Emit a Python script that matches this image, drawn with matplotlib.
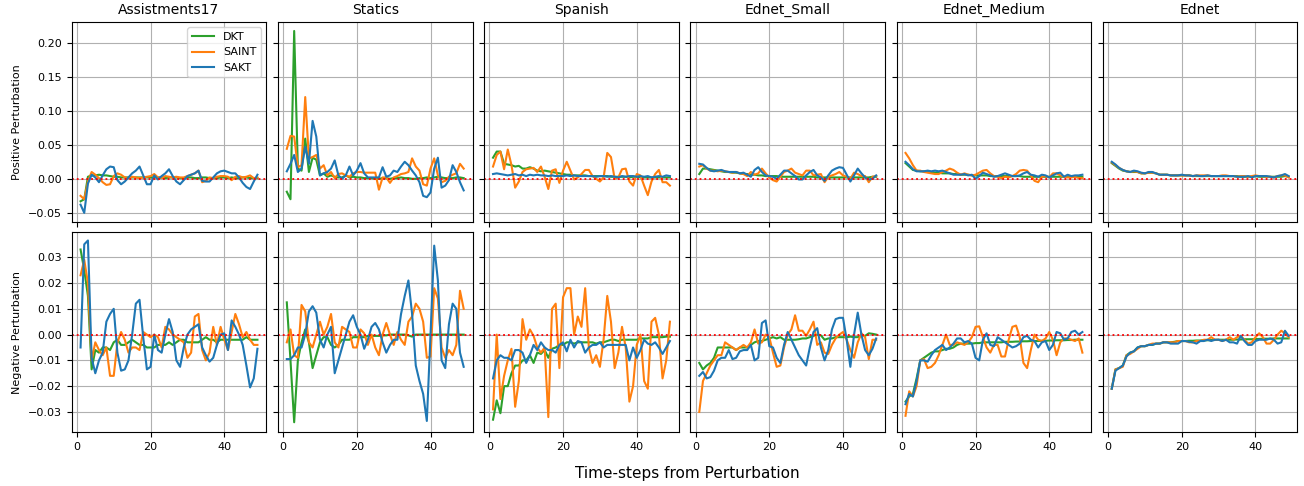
import matplotlib
matplotlib.use("Agg")
import matplotlib.pyplot as plt
import numpy as np

datasets = ["Assistments17", "Statics", "Spanish", "Ednet_Small", "Ednet_Medium", "Ednet"]
models = ["DKT", "SAINT", "SAKT"]
colors = {"DKT": "tab:green", "SAINT": "tab:orange", "SAKT": "tab:blue"}
steps = list(range(1, 50))

# ---------------- Positive perturbation ----------------
pos_assist_dkt = [-0.033, -0.030, 0.003, 0.005, 0.005, 0.006, 0.005, 0.005, 0.004, 0.003,
                  0.003, 0.002, 0.002, 0.002, 0.002, 0.002, 0.002, 0.002, 0.002, 0.002,
                  0.002, 0.002, 0.002, 0.001, 0.002, 0.002, 0.002, 0.001, 0.001, 0.002,
                  0.002, 0.001, 0.001, 0.002, 0.002, 0.001, 0.001, 0.001, 0.002, 0.002,
                  0.001, 0.002, 0.001, 0.001, 0.002, 0.002, 0.001, 0.001, 0.001]
pos_assist_saint = [-0.025, -0.030, -0.004, 0.010, 0.006, 0.001, -0.005, -0.009, -0.008, 0.004,
                    0.008, 0.006, 0.002, 0.001, 0.003, 0.002, 0.001, 0.002, 0.003, 0.004,
                    0.007, 0.002, 0.001, 0.004, 0.003, 0.002, 0.003, 0.002, 0.002, 0.004,
                    0.006, 0.008, 0.012, -0.005, -0.003, 0.002, 0.001, 0.003, 0.004, 0.004,
                    0.003, -0.002, 0.003, 0.004, 0.002, 0.003, 0.005, 0.001, 0.002]
pos_assist_sakt = [-0.038, -0.050, -0.007, 0.006, 0.002, -0.005, 0.005, 0.014, 0.018, 0.017,
                   -0.002, -0.008, -0.004, 0.002, 0.008, 0.012, 0.018, 0.005, -0.008, -0.008,
                   0.005, -0.001, 0.004, 0.008, 0.014, 0.004, -0.004, -0.008, -0.002, 0.004,
                   0.006, 0.008, 0.012, -0.003, -0.004, -0.004, 0.002, 0.008, 0.011, 0.012,
                   0.010, 0.008, 0.008, 0.002, -0.006, -0.012, -0.015, -0.004, 0.006]

pos_statics_dkt = [-0.019, -0.030, 0.217, 0.015, 0.012, 0.059, 0.010, 0.031, 0.028, 0.005,
                   0.008, 0.003, 0.005, 0.003, 0.002, 0.002, 0.005, 0.002, 0.003, 0.002,
                   0.002, 0.001, 0.001, 0.001, 0.000, 0.000, 0.001, 0.001, 0.000, 0.001,
                   0.001, 0.002, 0.001, 0.001, 0.000, 0.000, 0.001, 0.001, 0.002, 0.001,
                   0.002, 0.003, 0.002, 0.001, 0.001, 0.001, 0.002, 0.002, 0.001]
pos_statics_saint = [0.044, 0.063, 0.062, 0.017, 0.020, 0.120, 0.030, 0.032, 0.035, 0.015,
                     0.020, 0.005, 0.010, 0.001, 0.007, 0.008, 0.005, 0.003, 0.008, 0.010,
                     0.010, 0.009, 0.009, 0.009, 0.009, -0.016, 0.002, 0.002, -0.006, 0.002,
                     0.004, 0.007, 0.008, 0.010, 0.030, 0.018, 0.012, -0.008, -0.010, 0.015,
                     0.030, 0.005, -0.005, -0.003, 0.003, 0.006, 0.008, 0.022, 0.015]
pos_statics_sakt = [0.011, 0.022, 0.035, 0.010, 0.015, 0.047, 0.022, 0.085, 0.062, 0.005,
                    0.008, 0.010, 0.015, 0.027, 0.005, 0.000, 0.005, 0.018, 0.005, 0.012,
                    0.023, 0.008, 0.002, 0.002, 0.002, 0.002, 0.017, 0.003, 0.005, 0.012,
                    0.010, 0.018, 0.025, 0.020, 0.012, 0.005, -0.005, -0.025, -0.027, -0.020,
                    0.015, 0.031, -0.013, -0.010, -0.002, 0.020, 0.010, -0.005, -0.017]

pos_spanish_dkt = [0.031, 0.040, 0.040, 0.022, 0.021, 0.020, 0.018, 0.019, 0.015, 0.015,
                   0.017, 0.015, 0.012, 0.011, 0.012, 0.011, 0.010, 0.009, 0.008, 0.007,
                   0.006, 0.006, 0.005, 0.005, 0.005, 0.005, 0.004, 0.004, 0.004, 0.004,
                   0.004, 0.004, 0.003, 0.003, 0.003, 0.003, 0.003, 0.002, 0.003, 0.003,
                   0.002, 0.002, 0.002, 0.002, 0.002, 0.002, 0.002, 0.002, 0.002]
pos_spanish_saint = [0.018, 0.035, 0.040, 0.014, 0.043, 0.020, -0.013, -0.004, 0.010, 0.014,
                     0.015, 0.016, 0.010, 0.018, 0.003, -0.015, 0.012, 0.014, -0.006, 0.012,
                     0.025, 0.012, -0.001, 0.002, 0.007, 0.013, 0.013, 0.004, 0.000, -0.004,
                     0.002, 0.038, 0.032, 0.000, 0.002, 0.014, 0.015, -0.004, -0.010, 0.007,
                     0.005, -0.010, -0.024, -0.004, 0.007, 0.013, -0.005, -0.005, -0.010]
pos_spanish_sakt = [0.007, 0.008, 0.007, 0.006, 0.005, 0.006, 0.007, 0.005, 0.006, 0.004,
                    0.006, 0.005, 0.006, 0.005, 0.005, 0.004, 0.005, 0.004, 0.004, 0.004,
                    0.005, 0.004, 0.005, 0.004, 0.004, 0.004, 0.004, 0.004, 0.003, 0.004,
                    0.004, 0.003, 0.004, 0.003, 0.002, 0.004, 0.003, 0.004, 0.004, 0.003,
                    0.004, 0.003, 0.004, 0.002, 0.003, 0.004, 0.003, 0.005, 0.004]

pos_esmall_dkt = [0.007, 0.015, 0.015, 0.014, 0.013, 0.012, 0.011, 0.010, 0.010, 0.009,
                  0.009, 0.008, 0.007, 0.007, 0.006, 0.006, 0.005, 0.005, 0.004, 0.004,
                  0.004, 0.004, 0.003, 0.003, 0.003, 0.003, 0.003, 0.003, 0.003, 0.003,
                  0.003, 0.003, 0.002, 0.002, 0.002, 0.002, 0.002, 0.002, 0.002, 0.002,
                  0.002, 0.002, 0.002, 0.002, 0.002, 0.002, 0.002, 0.003, 0.003]
pos_esmall_saint = [0.018, 0.020, 0.015, 0.012, 0.012, 0.011, 0.012, 0.011, 0.010, 0.009,
                    0.010, 0.008, 0.007, 0.004, 0.010, 0.006, 0.008, 0.015, 0.008, 0.002,
                    -0.002, -0.004, 0.003, 0.010, 0.012, 0.015, 0.009, 0.007, 0.005, 0.012,
                    0.012, 0.005, 0.006, 0.007, -0.005, 0.003, 0.005, 0.007, 0.010, 0.005,
                    0.003, 0.000, 0.009, 0.007, 0.004, 0.004, -0.005, 0.003, 0.004]
pos_esmall_sakt = [0.022, 0.021, 0.016, 0.012, 0.011, 0.012, 0.013, 0.011, 0.010, 0.010,
                   0.010, 0.008, 0.009, 0.006, 0.003, 0.013, 0.017, 0.010, 0.005, 0.004,
                   0.003, 0.000, 0.006, 0.012, 0.012, 0.008, 0.004, -0.001, -0.001, 0.005,
                   0.010, 0.013, 0.005, 0.002, -0.003, 0.005, 0.012, 0.015, 0.017, 0.016,
                   0.006, -0.004, 0.005, 0.015, 0.008, 0.002, -0.001, 0.000, 0.005]

pos_emed_dkt = [0.023, 0.018, 0.013, 0.012, 0.011, 0.011, 0.010, 0.010, 0.009, 0.009,
                0.008, 0.008, 0.008, 0.007, 0.007, 0.006, 0.006, 0.006, 0.005, 0.005,
                0.005, 0.005, 0.005, 0.004, 0.004, 0.004, 0.004, 0.004, 0.004, 0.004,
                0.004, 0.004, 0.003, 0.003, 0.003, 0.003, 0.003, 0.003, 0.003, 0.003,
                0.003, 0.003, 0.003, 0.003, 0.003, 0.003, 0.003, 0.003, 0.003]
pos_emed_saint = [0.038, 0.030, 0.020, 0.012, 0.012, 0.010, 0.009, 0.008, 0.007, 0.007,
                  0.010, 0.012, 0.015, 0.013, 0.009, 0.006, 0.008, 0.006, 0.005, 0.006,
                  0.009, 0.012, 0.013, 0.008, 0.004, 0.003, 0.001, 0.003, 0.002, 0.004,
                  0.007, 0.012, 0.013, 0.012, 0.005, -0.003, -0.005, 0.003, 0.004, 0.002,
                  0.008, 0.008, 0.005, 0.003, 0.002, 0.002, 0.003, 0.001, 0.001]
pos_emed_sakt = [0.025, 0.020, 0.014, 0.011, 0.011, 0.011, 0.012, 0.011, 0.012, 0.011,
                 0.012, 0.010, 0.008, 0.006, 0.006, 0.006, 0.007, 0.005, 0.006, 0.000,
                 0.004, 0.009, 0.007, 0.005, 0.003, 0.004, 0.006, 0.008, 0.006, 0.004,
                 0.004, 0.005, 0.008, 0.010, 0.006, 0.005, 0.003, 0.006, 0.005, 0.002,
                 0.005, 0.008, 0.009, 0.003, 0.006, 0.004, 0.005, 0.005, 0.006]

pos_ednet_dkt = [0.023, 0.019, 0.015, 0.012, 0.011, 0.010, 0.010, 0.010, 0.008, 0.008,
                 0.009, 0.009, 0.008, 0.006, 0.006, 0.006, 0.005, 0.005, 0.005, 0.005,
                 0.005, 0.005, 0.004, 0.004, 0.004, 0.004, 0.004, 0.004, 0.004, 0.004,
                 0.004, 0.004, 0.004, 0.004, 0.004, 0.003, 0.003, 0.003, 0.003, 0.004,
                 0.003, 0.003, 0.003, 0.003, 0.003, 0.003, 0.003, 0.004, 0.003]
pos_ednet_saint = [0.024, 0.020, 0.016, 0.013, 0.011, 0.010, 0.011, 0.010, 0.008, 0.008,
                   0.009, 0.009, 0.008, 0.006, 0.006, 0.006, 0.005, 0.005, 0.005, 0.005,
                   0.005, 0.005, 0.004, 0.005, 0.005, 0.005, 0.005, 0.004, 0.004, 0.004,
                   0.005, 0.005, 0.004, 0.004, 0.003, 0.004, 0.004, 0.003, 0.004, 0.005,
                   0.004, 0.004, 0.003, 0.003, 0.002, 0.004, 0.005, 0.005, 0.002]
pos_ednet_sakt = [0.025, 0.021, 0.016, 0.013, 0.011, 0.010, 0.012, 0.011, 0.009, 0.008,
                  0.010, 0.010, 0.008, 0.006, 0.006, 0.006, 0.005, 0.005, 0.005, 0.006,
                  0.005, 0.005, 0.004, 0.005, 0.004, 0.004, 0.005, 0.004, 0.004, 0.004,
                  0.004, 0.004, 0.004, 0.004, 0.003, 0.003, 0.003, 0.004, 0.002, 0.004,
                  0.004, 0.004, 0.004, 0.003, 0.002, 0.004, 0.005, 0.007, 0.004]

# ---------------- Negative perturbation ----------------
neg_assist_dkt = [0.033, 0.025, 0.015, -0.0135, -0.006, -0.007, -0.005, -0.005, -0.006, -0.003,
                  -0.002, -0.004, -0.004, -0.003, -0.002, -0.003, -0.004, -0.004, -0.005, -0.005,
                  -0.005, -0.004, -0.004, -0.004, -0.003, -0.004, -0.003, -0.002, -0.002, -0.003,
                  -0.003, -0.003, -0.003, -0.002, -0.001, -0.002, -0.002, -0.003, -0.002, -0.002,
                  -0.002, -0.002, -0.002, -0.002, -0.002, -0.001, -0.002, -0.002, -0.002]
neg_assist_saint = [0.023, 0.029, 0.020, -0.010, -0.003, -0.006, -0.008, -0.005, -0.016, -0.016,
                    -0.003, 0.001, -0.002, -0.007, -0.005, -0.005, -0.006, 0.001, 0.000, -0.001,
                    0.000, -0.001, -0.005, 0.003, 0.002, 0.000, -0.001, -0.002, -0.003, -0.009,
                    -0.007, 0.007, 0.008, -0.006, -0.010, -0.007, 0.003, -0.004, 0.003, -0.002,
                    -0.006, 0.001, 0.008, 0.004, -0.001, 0.001, -0.002, -0.004, -0.004]
neg_assist_sakt = [-0.005, 0.035, 0.0365, -0.009, -0.015, -0.010, -0.007, 0.005, 0.008, 0.010,
                   -0.007, -0.014, -0.0135, -0.010, 0.000, 0.012, 0.0135, -0.001, -0.0135, -0.0125,
                   0.000, -0.006, -0.007, 0.000, 0.006, 0.001, -0.010, -0.0125, -0.005, 0.000,
                   0.002, 0.003, 0.004, -0.005, -0.008, -0.0105, -0.009, -0.004, 0.000, 0.0005,
                   -0.006, 0.0055, 0.003, 0.000, -0.004, -0.012, -0.0205, -0.017, -0.0055]

neg_statics_dkt = [0.0125, -0.010, -0.034, -0.010, -0.003, 0.002, -0.003, -0.013, -0.008, -0.003,
                   -0.001, -0.001, -0.004, -0.005, -0.004, -0.002, -0.002, -0.002, -0.001, -0.001,
                   -0.001, -0.001, -0.0005, -0.0005, -0.0005, -0.0005, -0.0003, -0.0003, 0.000, 0.000,
                   0.000, 0.000, 0.000, -0.0003, -0.0008, 0.000, 0.000, 0.000, 0.000, 0.000,
                   0.000, 0.000, 0.000, 0.000, 0.000, 0.000, 0.000, 0.000, 0.000]
neg_statics_saint = [-0.003, 0.002, -0.008, -0.009, 0.0115, 0.009, -0.003, -0.005, 0.000, 0.005,
                     0.000, 0.003, 0.008, -0.003, -0.005, 0.003, 0.002, 0.001, -0.005, -0.005,
                     0.002, 0.0005, -0.004, 0.000, -0.005, -0.008, 0.000, 0.0045, 0.000, -0.004,
                     0.001, -0.002, -0.004, 0.005, 0.007, 0.012, 0.010, 0.005, -0.009, -0.0085,
                     0.018, 0.014, -0.005, -0.009, -0.006, -0.008, -0.004, 0.017, 0.010]
neg_statics_sakt = [-0.0095, -0.0095, -0.008, -0.005, -0.005, 0.000, 0.009, 0.011, 0.0085, -0.002,
                    -0.005, 0.000, 0.003, -0.015, -0.010, -0.005, 0.000, 0.005, 0.0075, 0.003,
                    0.000, -0.0055, -0.002, 0.003, 0.0045, 0.002, -0.003, -0.007, -0.004, -0.002,
                    -0.002, 0.008, 0.015, 0.021, 0.008, -0.012, -0.018, -0.023, -0.0335, 0.000,
                    0.0345, 0.021, -0.010, -0.013, 0.004, 0.012, 0.010, -0.007, -0.0125]

neg_spanish_dkt = [-0.033, -0.0255, -0.0305, -0.020, -0.020, -0.015, -0.012, -0.012, -0.010, -0.010,
                   -0.008, -0.011, -0.007, -0.0075, -0.006, -0.009, -0.0055, -0.005, -0.004, -0.004,
                   -0.003, -0.003, -0.0035, -0.003, -0.003, -0.003, -0.003, -0.003, -0.0035, -0.003,
                   -0.003, -0.0025, -0.002, -0.002, -0.0025, -0.002, -0.002, -0.002, -0.002, -0.002,
                   -0.0015, -0.0015, -0.0015, -0.001, -0.001, -0.001, -0.001, -0.0008, -0.0008]
neg_spanish_saint = [-0.029, 0.000, -0.025, -0.016, -0.010, -0.0055, -0.028, -0.018, 0.006, -0.002,
                     0.002, -0.0005, -0.005, -0.007, -0.005, -0.032, 0.010, 0.012, -0.013, 0.0145,
                     0.018, 0.018, 0.000, 0.007, 0.003, 0.018, -0.005, -0.011, -0.008, -0.0125,
                     -0.002, 0.015, 0.005, -0.013, -0.007, 0.003, -0.005, -0.026, -0.020, -0.004,
                     0.000, -0.018, -0.021, 0.005, 0.0065, 0.000, -0.017, -0.010, 0.005]
neg_spanish_sakt = [-0.017, -0.010, -0.008, -0.009, -0.009, -0.010, -0.006, -0.006, -0.007, -0.011,
                    -0.008, -0.004, -0.006, -0.003, -0.005, -0.006, -0.006, -0.007, -0.004, -0.003,
                    -0.0065, -0.002, -0.005, -0.0025, -0.003, -0.007, -0.005, -0.004, -0.004, -0.003,
                    -0.005, -0.004, -0.004, -0.004, -0.004, -0.004, -0.004, -0.010, -0.005, -0.009,
                    -0.006, -0.002, -0.0035, -0.004, -0.003, -0.005, -0.0075, -0.005, -0.0025]

neg_esmall_dkt = [-0.011, -0.0135, -0.012, -0.011, -0.009, -0.005, -0.005, -0.005, -0.005, -0.005,
                  -0.006, -0.005, -0.005, -0.005, -0.004, -0.003, -0.0025, -0.0025, -0.002, -0.0015,
                  -0.001, -0.0015, -0.001, -0.002, -0.002, -0.002, -0.002, -0.0018, -0.0015, -0.0015,
                  -0.001, -0.0005, 0.000, -0.0003, -0.002, -0.0015, -0.0015, -0.001, -0.001, -0.001,
                  -0.001, -0.0008, -0.001, -0.001, -0.0005, -0.0005, 0.0005, 0.0003, 0.000]
neg_esmall_saint = [-0.030, -0.018, -0.015, -0.012, -0.010, -0.008, -0.008, -0.003, -0.004, -0.005,
                    -0.006, -0.005, -0.004, -0.005, -0.003, 0.002, -0.0035, -0.003, 0.000, -0.001,
                    -0.007, -0.0125, -0.012, -0.005, 0.000, 0.002, 0.0075, 0.0015, 0.0015, -0.0005,
                    0.002, 0.005, -0.004, -0.003, -0.007, -0.0075, -0.004, -0.0015, 0.000, 0.001,
                    -0.002, -0.006, -0.009, -0.003, 0.0005, -0.001, -0.0095, -0.002, -0.002]
neg_esmall_sakt = [-0.016, -0.0145, -0.017, -0.0165, -0.014, -0.010, -0.009, -0.009, -0.006, -0.0095,
                   -0.009, -0.0065, -0.006, -0.006, -0.004, -0.010, -0.009, 0.0045, 0.0055, -0.0045,
                   -0.005, -0.009, -0.011, -0.004, 0.001, -0.002, -0.005, -0.008, -0.010, -0.012,
                   -0.005, 0.001, 0.0025, -0.005, -0.010, -0.006, 0.002, 0.006, 0.0065, 0.0065,
                   -0.002, -0.0125, 0.000, 0.0085, 0.000, -0.006, -0.008, -0.0055, -0.0015]

neg_emed_dkt = [-0.026, -0.024, -0.023, -0.017, -0.010, -0.009, -0.008, -0.007, -0.0065, -0.0065,
                -0.006, -0.0055, -0.0055, -0.005, -0.004, -0.0035, -0.0035, -0.0035, -0.0035, -0.0033,
                -0.0033, -0.003, -0.003, -0.003, -0.003, -0.003, -0.003, -0.0028, -0.0028, -0.0028,
                -0.0027, -0.0027, -0.0026, -0.0026, -0.0025, -0.0025, -0.0025, -0.0024, -0.0024, -0.0023,
                -0.0023, -0.0022, -0.0022, -0.0022, -0.0021, -0.0021, -0.002, -0.002, -0.002]
neg_emed_saint = [-0.0315, -0.022, -0.024, -0.020, -0.010, -0.0095, -0.013, -0.0125, -0.011, -0.008,
                  -0.004, 0.000, -0.004, -0.004, -0.003, -0.0035, -0.004, -0.003, -0.001, 0.003,
                  0.0032, -0.001, -0.005, -0.007, -0.004, -0.004, -0.0085, -0.0085, -0.002, 0.003,
                  0.0035, -0.001, -0.011, -0.013, -0.006, 0.000, -0.002, -0.0025, -0.0015, 0.001,
                  -0.002, -0.008, -0.003, -0.0015, -0.0015, -0.002, -0.0025, -0.0015, -0.007]
neg_emed_sakt = [-0.027, -0.023, -0.024, -0.018, -0.010, -0.010, -0.0105, -0.008, -0.006, -0.005,
                 -0.004, -0.006, -0.005, -0.0035, -0.0015, -0.0015, -0.003, -0.0025, -0.0035, -0.009,
                 -0.010, -0.002, 0.0005, -0.004, -0.0045, -0.001, -0.002, -0.003, -0.004, -0.005,
                 -0.0045, -0.0035, -0.001, -0.0005, -0.002, -0.0025, -0.005, -0.003, -0.0025, -0.006,
                 -0.004, 0.001, 0.0005, -0.002, -0.0015, 0.001, 0.0015, 0.000, 0.001]

neg_ednet_dkt = [-0.021, -0.0135, -0.013, -0.012, -0.008, -0.007, -0.0065, -0.005, -0.0045, -0.0045,
                 -0.004, -0.004, -0.0035, -0.0035, -0.003, -0.003, -0.003, -0.0028, -0.0025, -0.0025,
                 -0.0025, -0.0024, -0.0024, -0.0023, -0.0023, -0.0022, -0.0022, -0.0021, -0.0021, -0.002,
                 -0.002, -0.002, -0.002, -0.002, -0.0019, -0.0019, -0.0018, -0.0018, -0.0018, -0.0017,
                 -0.0017, -0.0016, -0.0016, -0.0016, -0.0015, -0.0015, -0.0015, -0.0015, -0.0015]
neg_ednet_saint = [-0.021, -0.0135, -0.013, -0.0125, -0.008, -0.0075, -0.0065, -0.0055, -0.0045, -0.0045,
                   -0.004, -0.0035, -0.0035, -0.0035, -0.003, -0.003, -0.003, -0.003, -0.0025, -0.0025,
                   -0.0025, -0.003, -0.003, -0.0025, -0.0025, -0.002, -0.002, -0.001, -0.002, -0.002,
                   -0.0025, -0.002, -0.001, -0.002, -0.001, -0.0005, -0.002, -0.0035, -0.003, -0.001,
                   0.0005, -0.001, -0.0035, -0.0035, -0.002, 0.000, 0.0015, 0.0005, -0.001]
neg_ednet_sakt = [-0.021, -0.014, -0.013, -0.012, -0.0085, -0.007, -0.0065, -0.005, -0.0045, -0.0045,
                  -0.004, -0.004, -0.0035, -0.0035, -0.003, -0.003, -0.0035, -0.0035, -0.0035, -0.0025,
                  -0.0025, -0.0028, -0.003, -0.0035, -0.0025, -0.0025, -0.002, -0.0025, -0.002, -0.002,
                  -0.0025, -0.002, -0.003, -0.003, -0.0035, -0.0005, -0.0025, -0.004, -0.004, -0.0025,
                  -0.002, -0.002, -0.002, -0.0015, -0.002, -0.0035, -0.003, 0.0015, -0.0005]

positive = {
    "Assistments17": [pos_assist_dkt, pos_assist_saint, pos_assist_sakt],
    "Statics": [pos_statics_dkt, pos_statics_saint, pos_statics_sakt],
    "Spanish": [pos_spanish_dkt, pos_spanish_saint, pos_spanish_sakt],
    "Ednet_Small": [pos_esmall_dkt, pos_esmall_saint, pos_esmall_sakt],
    "Ednet_Medium": [pos_emed_dkt, pos_emed_saint, pos_emed_sakt],
    "Ednet": [pos_ednet_dkt, pos_ednet_saint, pos_ednet_sakt],
}
negative = {
    "Assistments17": [neg_assist_dkt, neg_assist_saint, neg_assist_sakt],
    "Statics": [neg_statics_dkt, neg_statics_saint, neg_statics_sakt],
    "Spanish": [neg_spanish_dkt, neg_spanish_saint, neg_spanish_sakt],
    "Ednet_Small": [neg_esmall_dkt, neg_esmall_saint, neg_esmall_sakt],
    "Ednet_Medium": [neg_emed_dkt, neg_emed_saint, neg_emed_sakt],
    "Ednet": [neg_ednet_dkt, neg_ednet_saint, neg_ednet_sakt],
}

fig, axes = plt.subplots(2, 6, figsize=(13.04, 4.86), dpi=100, sharex=True, sharey="row")
fig.subplots_adjust(left=0.055, right=0.995, top=0.955, bottom=0.111, wspace=0.06, hspace=0.05)

for r, data in enumerate([positive, negative]):
    for c, name in enumerate(datasets):
        ax = axes[r, c]
        for m, series in zip(models, data[name]):
            ax.plot(steps, series, color=colors[m], label=m, lw=1.5)
        ax.axhline(0, color="red", linestyle=":", lw=1.3)
        ax.grid(True)
        ax.tick_params(labelsize=8)
        if r == 0:
            ax.set_title(name, fontsize=10)

axes[1, 0].set_ylim(-0.0378, 0.0398)
axes[0, 0].set_ylabel("Positive Perturbation", fontsize=8)
axes[1, 0].set_ylabel("Negative Perturbation", fontsize=8)
axes[0, 0].legend(loc="upper right", fontsize=8)
axes[1, 0].set_xticks([0, 20, 40])
fig.supxlabel("Time-steps from Perturbation", fontsize=11, x=0.527, y=0.01)

fig.savefig("out.png", dpi=100)
